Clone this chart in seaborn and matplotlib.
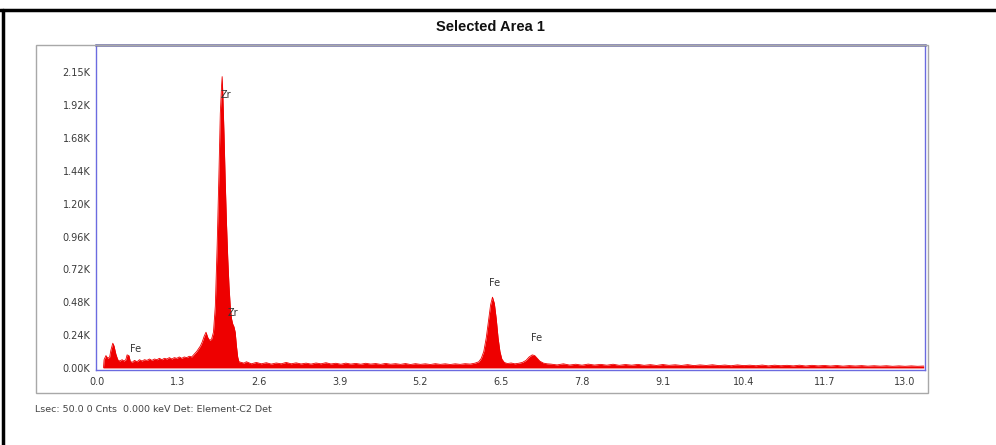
import matplotlib
matplotlib.use("Agg")
import matplotlib.pyplot as plt
import seaborn as sns
import pandas as pd
from matplotlib.patches import Rectangle
from matplotlib.lines import Line2D

# espectro EDS (keV, cuentas en miles)
energy_kev = [
    0.10, 0.11, 0.14, 0.17, 0.20, 0.22, 0.25, 0.27, 0.30, 0.33, 0.36, 0.40, 0.43, 0.46, 0.48, 0.51,
    0.53, 0.56, 0.60, 0.64, 0.68, 0.72, 0.76, 0.80, 0.84, 0.88, 0.92, 0.96, 1.00, 1.04, 1.08, 1.12,
    1.16, 1.20, 1.24, 1.28, 1.32, 1.36, 1.40, 1.44, 1.48, 1.52, 1.56, 1.60, 1.63, 1.66, 1.69, 1.72,
    1.75, 1.78, 1.81, 1.84, 1.87, 1.90, 1.93, 1.96, 1.98, 2.00, 2.01, 2.02, 2.04, 2.06, 2.08, 2.10,
    2.12, 2.14, 2.16, 2.18, 2.20, 2.22, 2.24, 2.26, 2.28, 2.32, 2.36,
    2.40, 2.48, 2.56, 2.64, 2.72, 2.80, 2.88, 2.96, 3.04, 3.12, 3.20, 3.28, 3.36, 3.44, 3.52, 3.60,
    3.68, 3.76, 3.84, 3.92, 4.00, 4.08, 4.16, 4.24, 4.32, 4.40, 4.48, 4.56, 4.64, 4.72, 4.80, 4.88,
    4.96, 5.04, 5.12, 5.20, 5.28, 5.36, 5.44, 5.52, 5.60, 5.68, 5.76, 5.84, 5.92, 6.00, 6.08, 6.14,
    6.18, 6.22, 6.26, 6.30, 6.33, 6.36, 6.39, 6.42, 6.45, 6.48, 6.51, 6.55, 6.60, 6.66, 6.72, 6.78,
    6.84, 6.90, 6.95, 7.00, 7.04, 7.08, 7.12, 7.18, 7.24,
    7.30, 7.40, 7.50, 7.60, 7.70, 7.80, 7.90, 8.00, 8.10, 8.20, 8.30, 8.40, 8.50, 8.60, 8.70, 8.80,
    8.90, 9.00, 9.10, 9.20, 9.30, 9.40, 9.50, 9.60, 9.70, 9.80, 9.90, 10.00, 10.10, 10.20, 10.30,
    10.40, 10.50, 10.60, 10.70, 10.80, 10.90, 11.00, 11.10, 11.20, 11.30, 11.40, 11.50, 11.60, 11.70,
    11.80, 11.90, 12.00, 12.10, 12.20, 12.30, 12.40, 12.50, 12.60, 12.70, 12.80, 12.90, 13.00, 13.10,
    13.20, 13.30,
]
counts_k = [
    0.00, 0.06, 0.09, 0.07, 0.08, 0.13, 0.18, 0.16, 0.10, 0.06, 0.05, 0.06, 0.05, 0.06, 0.095, 0.09,
    0.05, 0.04, 0.055, 0.045, 0.06, 0.05, 0.06, 0.055, 0.065, 0.055, 0.065, 0.06, 0.07, 0.06, 0.07, 0.065,
    0.075, 0.065, 0.075, 0.07, 0.08, 0.07, 0.08, 0.075, 0.085, 0.08, 0.10, 0.12, 0.14, 0.16, 0.19, 0.23,
    0.26, 0.22, 0.20, 0.21, 0.26, 0.45, 0.90, 1.45, 1.85, 2.05, 2.12, 2.00, 1.70, 1.35, 1.05, 0.80,
    0.60, 0.45, 0.36, 0.32, 0.30, 0.26, 0.16, 0.08, 0.045, 0.04, 0.035,
    0.045, 0.030, 0.040, 0.030, 0.038, 0.028, 0.036, 0.030, 0.040, 0.030, 0.037, 0.029, 0.035, 0.028, 0.036, 0.030,
    0.038, 0.029, 0.034, 0.027, 0.035, 0.028, 0.033, 0.027, 0.034, 0.028, 0.032, 0.026, 0.033, 0.027, 0.031, 0.026,
    0.032, 0.025, 0.031, 0.026, 0.030, 0.025, 0.031, 0.026, 0.030, 0.025, 0.030, 0.026, 0.031, 0.028, 0.035, 0.045,
    0.07, 0.12, 0.22, 0.36, 0.46, 0.515, 0.47, 0.36, 0.22, 0.12, 0.065, 0.040, 0.032, 0.036, 0.030, 0.034,
    0.040, 0.055, 0.080, 0.095, 0.090, 0.070, 0.050, 0.035, 0.030,
    0.028, 0.022, 0.030, 0.021, 0.027, 0.020, 0.028, 0.021, 0.026, 0.020, 0.027, 0.019, 0.025, 0.020, 0.026, 0.019,
    0.024, 0.018, 0.025, 0.019, 0.023, 0.018, 0.024, 0.017, 0.022, 0.018, 0.023, 0.017, 0.021, 0.016, 0.022,
    0.017, 0.020, 0.016, 0.021, 0.015, 0.020, 0.016, 0.019, 0.015, 0.020, 0.014, 0.019, 0.015, 0.018,
    0.014, 0.018, 0.013, 0.017, 0.014, 0.017, 0.013, 0.016, 0.013, 0.016, 0.012, 0.015, 0.012, 0.015,
    0.012, 0.014,
]

x_ticks = [0.0, 1.3, 2.6, 3.9, 5.2, 6.5, 7.8, 9.1, 10.4, 11.7, 13.0]
y_ticks = [0.0, 0.2389, 0.4778, 0.7167, 0.9556, 1.1944, 1.4333, 1.6722, 1.9111, 2.15]
y_labels = ["0.00K", "0.24K", "0.48K", "0.72K", "0.96K", "1.20K", "1.44K", "1.68K", "1.92K", "2.15K"]

# etiquetas de picos: (texto, keV, miles de cuentas)
peak_labels = [("Zr", 2.07, 1.95), ("Zr", 2.19, 0.36), ("Fe", 0.62, 0.10),
               ("Fe", 6.40, 0.58), ("Fe", 7.07, 0.18)]

datos = pd.DataFrame({"keV": energy_kev, "cuentas": counts_k})

sns.set_style("white")
plt.rcParams["font.family"] = ["DejaVu Sans"]

fig = plt.figure(figsize=(9.96, 4.45), dpi=100)
ax = fig.add_axes([96 / 996, 75 / 445, 829 / 996, 325 / 445])

ax.fill_between(datos["keV"], datos["cuentas"], 0, color="#ee0000", linewidth=0)
sns.lineplot(data=datos, x="keV", y="cuentas", ax=ax, color="#ee0000", linewidth=0.6)

ax.set_xlim(-0.02, 13.32)
ax.set_ylim(-0.015, 2.35)
ax.set_xticks(x_ticks)
ax.set_xticklabels([f"{v:.1f}" for v in x_ticks])
ax.set_yticks(y_ticks)
ax.set_yticklabels(y_labels)
ax.set_xlabel("")
ax.set_ylabel("")
ax.tick_params(axis="both", labelsize=7, colors="#3a3a3a", length=2, pad=2)
ax.tick_params(axis="x", pad=3)

for lado in ["left", "right", "bottom"]:
    ax.spines[lado].set_color("#6b6be0")
    ax.spines[lado].set_linewidth(1.0)
ax.spines["top"].set_color("#6a6aa8")
ax.spines["top"].set_linewidth(1.8)

for texto, xk, yk in peak_labels:
    ax.text(xk, yk, texto, fontsize=7, color="#333333", ha="center", va="bottom")

# marco gris exterior al grafico
fig.patches.append(Rectangle((36 / 996, 52 / 445), 892 / 996, 348 / 445,
                             transform=fig.transFigure, fill=False,
                             edgecolor="#a8a8a8", linewidth=1.0, zorder=0))
# borde negro superior e izquierdo
fig.lines.append(Line2D([0, 1], [435 / 445, 435 / 445], transform=fig.transFigure,
                        color="black", linewidth=2.5))
fig.lines.append(Line2D([2.5 / 996, 2.5 / 996], [0, 435 / 445], transform=fig.transFigure,
                        color="black", linewidth=2.5))

fig.text(490 / 996, 1 - 27 / 445, "Selected Area 1", ha="center", va="center",
         fontsize=10.5, fontweight="bold", family="Liberation Sans", color="#111111")
fig.text(35 / 996, 1 - 410 / 445, "Lsec: 50.0 0 Cnts  0.000 keV Det: Element-C2 Det",
         ha="left", va="center", fontsize=6.8, color="#444444")

plt.savefig("out.png", dpi=100)
